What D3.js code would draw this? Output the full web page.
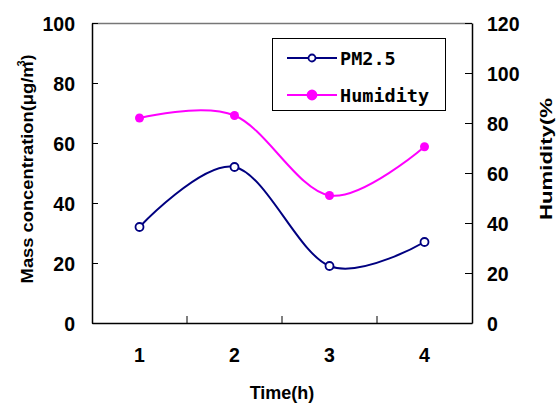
<!DOCTYPE html>
<html>
<head>
<meta charset="utf-8">
<script src="https://cdn.jsdelivr.net/npm/d3@7"></script>
<style>
  body { margin: 0; background: #fff; }
  svg { display: block; }
</style>
</head>
<body>
<svg id="chart" width="559" height="405"></svg>
<script>
// data
var hours = ["1", "2", "3", "4"];
var pm25 = [32, 52, 19, 27];
var humidity = [82, 83, 51, 70.5];
var leftTicks = [0, 20, 40, 60, 80, 100];
var rightTicks = [0, 20, 40, 60, 80, 100, 120];

var svg = d3.select("#chart"),
	margin = {top: 23, right: 87, bottom: 82, left: 92},
	width = 559 - margin.left - margin.right,
	height = 405 - margin.top - margin.bottom,
	tickFont = "Liberation Sans, Arial, sans-serif";

var x = d3.scaleBand().domain(hours).range([0, width]).padding(0),
	yL = d3.scaleLinear().domain([0, 100]).range([height, 0]),
	yR = d3.scaleLinear().domain([0, 120]).range([height, 0]);

var g = svg.append("g")
	.attr("transform", "translate(" + margin.left + "," + margin.top + ")");

// top frame line
g.append("line")
	.attr("x1", 0).attr("x2", width)
	.attr("y1", 0.5).attr("y2", 0.5)
	.style("stroke", "#777").style("stroke-width", 1.5);

// axes
var left = g.append("g")
	.call(d3.axisLeft(yL).tickValues(leftTicks).tickSizeInner(-6).tickSizeOuter(0).tickPadding(17));
var right = g.append("g")
	.attr("transform", "translate(" + width + ",0)")
	.call(d3.axisRight(yR).tickValues(rightTicks).tickSizeInner(-7).tickSizeOuter(0).tickPadding(15));
var bottom = g.append("g")
	.attr("transform", "translate(0," + height + ")")
	.call(d3.axisBottom(x).tickSize(0).tickPadding(25));

// tick marks on the band boundaries
bottom.selectAll(".bound")
	.data(hours.slice(0, -1))
	.enter().append("line")
	.attr("class", "bound")
	.attr("x1", function(d) { return x(d) + x.bandwidth(); })
	.attr("x2", function(d) { return x(d) + x.bandwidth(); })
	.attr("y1", 0).attr("y2", -7)
	.style("stroke", "#000");

[left, right, bottom].forEach(function(a) {
	a.select(".domain").style("stroke", "#000").style("stroke-width", 1.5);
	a.selectAll(".tick text")
		.style("font-family", tickFont)
		.style("font-size", "19.5px")
		.style("font-weight", "bold")
		.style("fill", "#000");
});
left.selectAll(".tick text").attr("dy", "0.36em");
right.selectAll(".tick text").attr("dy", "0.36em");

// smoothed lines
var curve = d3.curveCatmullRom.alpha(0);

var lineL = d3.line()
	.x(function(d, i) { return x(hours[i]) + x.bandwidth() / 2; })
	.y(function(d) { return yL(d); })
	.curve(curve);
var lineR = d3.line()
	.x(function(d, i) { return x(hours[i]) + x.bandwidth() / 2; })
	.y(function(d) { return yR(d); })
	.curve(curve);

g.append("path").datum(humidity)
	.attr("d", lineR)
	.style("fill", "none").style("stroke", "#ff00ff").style("stroke-width", 2);
g.append("path").datum(pm25)
	.attr("d", lineL)
	.style("fill", "none").style("stroke", "#000080").style("stroke-width", 2);

g.selectAll(".hum").data(humidity).enter().append("circle")
	.attr("class", "hum")
	.attr("cx", function(d, i) { return x(hours[i]) + x.bandwidth() / 2; })
	.attr("cy", function(d) { return yR(d); })
	.attr("r", 4.5)
	.style("fill", "#ff00ff");
g.selectAll(".pm").data(pm25).enter().append("circle")
	.attr("class", "pm")
	.attr("cx", function(d, i) { return x(hours[i]) + x.bandwidth() / 2; })
	.attr("cy", function(d) { return yL(d); })
	.attr("r", 4)
	.style("fill", "#fff").style("stroke", "#000080").style("stroke-width", 1.8);

// axis titles (the original glyphs are stretched along the text direction)
var yTitle = svg.append("text")
	.attr("transform", "translate(33,169) rotate(-90)")
	.attr("text-anchor", "middle")
	.style("font-family", tickFont).style("font-size", "17px").style("font-weight", "bold");
yTitle.append("tspan").attr("textLength", 222).attr("lengthAdjust", "spacingAndGlyphs")
	.text("Mass concentration(μg/m");
yTitle.append("tspan").attr("dx", -5).attr("dy", -8).style("font-size", "11px").text("3");
yTitle.append("tspan").attr("dy", 8).text(")");

svg.append("text")
	.attr("transform", "translate(552,220) rotate(-90)")
	.attr("text-anchor", "start")
	.attr("textLength", 122).attr("lengthAdjust", "spacingAndGlyphs")
	.style("font-family", tickFont).style("font-size", "17px").style("font-weight", "bold")
	.text("Humidity(%");

svg.append("text")
	.attr("x", margin.left + width / 2)
	.attr("y", 399)
	.attr("text-anchor", "middle")
	.style("font-family", tickFont).style("font-size", "18px").style("font-weight", "bold")
	.text("Time(h)");

// legend
var legend = svg.append("g").attr("transform", "translate(272,38)");
legend.append("rect")
	.attr("x", 0.5).attr("y", 0.5)
	.attr("width", 173).attr("height", 72)
	.style("fill", "#fff").style("stroke", "#000").style("stroke-width", 1);

var items = [
	{name: "PM2.5", color: "#000080", fill: "#fff", r: 3.5},
	{name: "Humidity", color: "#ff00ff", fill: "#ff00ff", r: 4.5}
];
var row = legend.selectAll(".row").data(items).enter().append("g")
	.attr("class", "row")
	.attr("transform", function(d, i) { return "translate(0," + (20 + i * 37) + ")"; });
row.append("line")
	.attr("x1", 15).attr("x2", 65)
	.style("stroke", function(d) { return d.color; }).style("stroke-width", 2);
row.append("circle")
	.attr("cx", 40).attr("r", function(d) { return d.r; })
	.style("fill", function(d) { return d.fill; })
	.style("stroke", function(d) { return d.color; }).style("stroke-width", 1.8);
row.append("text")
	.attr("x", 68).attr("dy", "0.36em")
	.style("font-family", "DejaVu Sans Mono, monospace").style("font-size", "18.5px").style("font-weight", "bold")
	.text(function(d) { return d.name; });
</script>
</body>
</html>
